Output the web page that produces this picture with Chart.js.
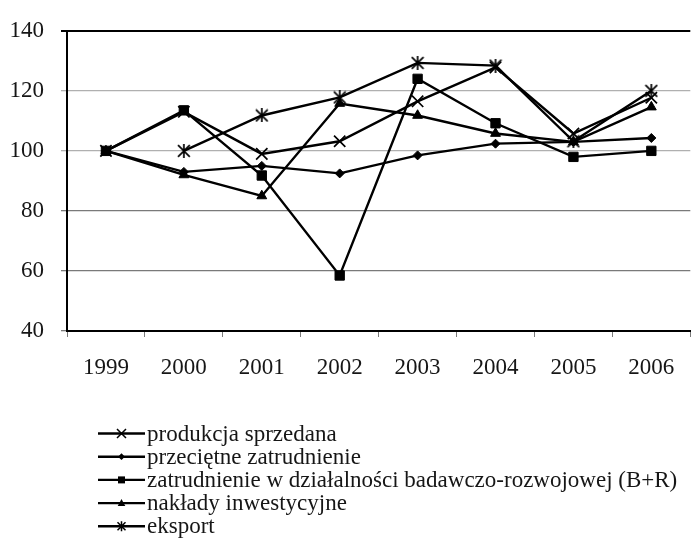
<!DOCTYPE html>
<html>
<head>
<meta charset="utf-8">
<script src="https://cdn.jsdelivr.net/npm/chart.js@4.4.1/dist/chart.umd.min.js"></script>
<style>
  html, body { margin: 0; padding: 0; background: #fff; overflow: hidden; }
  #wrap { width: 695px; height: 542px; overflow: hidden; position: relative; }
  canvas { display: block; }
</style>
</head>
<body>
<div id="wrap"><canvas id="c" width="700" height="542"></canvas></div>
<script>
// Dynamika wskaźników (1999 = 100)
const years = ['1999', '2000', '2001', '2002', '2003', '2004', '2005', '2006'];
const produkcjaSprzedana = [100, 113, 99, 103.2, 116.5, 127.8, 105.8, 117.7];
const przecietneZatrudnienie = [100, 93, 95, 92.5, 98.5, 102.4, 103, 104.3];
const zatrudnienieBR = [100, 113.5, 91.8, 58.5, 124, 109.2, 98, 100];
const nakladyInwestycyjne = [100, 92, 85, 115.8, 111.8, 105.8, 103, 114.6];
const eksport = [null, 100, 111.8, 117.8, 129.3, 128.4, 103.2, 120];

const seriesNames = [
  'produkcja sprzedana',
  'przeciętne zatrudnienie',
  'zatrudnienie w działalności badawczo-rozwojowej (B+R)',
  'nakłady inwestycyjne',
  'eksport'
];
const yTicks = [40, 60, 80, 100, 120, 140];

const FONT = '"Liberation Serif", "Times New Roman", serif';
const TEXT = '#161616';

// asterisk marker: an X with a vertical bar
function asterisk(size, lw) {
  const c = document.createElement('canvas');
  c.width = size; c.height = size;
  const g = c.getContext('2d');
  g.strokeStyle = '#000';
  g.lineWidth = lw;
  const m = size / 2, a = size * 0.42, v = size / 2;
  g.beginPath();
  g.moveTo(m - a, m - a); g.lineTo(m + a, m + a);
  g.moveTo(m + a, m - a); g.lineTo(m - a, m + a);
  g.moveTo(m, m - v); g.lineTo(m, m + v);
  g.stroke();
  return c;
}

function ds(label, data, style, radius, extra) {
  return Object.assign({
    label, data,
    borderColor: '#000',
    backgroundColor: '#000',
    borderWidth: 2.4,
    pointStyle: style,
    pointRadius: radius,
    pointHoverRadius: radius,
    pointBorderColor: '#000',
    pointBackgroundColor: '#000',
    pointBorderWidth: 1,
    tension: 0,
    spanGaps: false
  }, extra || {});
}

// legend below the plot: short line with the series marker, then the name
function drawMarker(ctx, kind, x, y) {
  ctx.save();
  ctx.fillStyle = '#000';
  ctx.strokeStyle = '#000';
  ctx.lineWidth = 1.5;
  ctx.beginPath();
  if (kind === 0) {
    const a = 4.5;
    ctx.moveTo(x - a, y - a); ctx.lineTo(x + a, y + a);
    ctx.moveTo(x + a, y - a); ctx.lineTo(x - a, y + a);
    ctx.stroke();
  } else if (kind === 1) {
    const r = 3.4;
    ctx.moveTo(x - r, y); ctx.lineTo(x, y - r); ctx.lineTo(x + r, y); ctx.lineTo(x, y + r);
    ctx.closePath(); ctx.fill();
  } else if (kind === 2) {
    ctx.rect(x - 3.5, y - 3.5, 7, 7); ctx.fill();
  } else if (kind === 3) {
    ctx.moveTo(x, y - 4); ctx.lineTo(x + 3.8, y + 3); ctx.lineTo(x - 3.8, y + 3);
    ctx.closePath(); ctx.fill();
  } else {
    const a = 4, v = 5;
    ctx.moveTo(x - a, y - a); ctx.lineTo(x + a, y + a);
    ctx.moveTo(x + a, y - a); ctx.lineTo(x - a, y + a);
    ctx.moveTo(x, y - v); ctx.lineTo(x, y + v);
    ctx.stroke();
  }
  ctx.restore();
}

const legendPlugin = {
  id: 'stackedLegend',
  afterDraw(chart) {
    const ctx = chart.ctx;
    ctx.save();
    ctx.font = '23px ' + FONT;
    ctx.fillStyle = TEXT;
    ctx.textAlign = 'left';
    ctx.textBaseline = 'alphabetic';
    seriesNames.forEach((name, i) => {
      const y = 433.5 + i * 23.2;
      ctx.strokeStyle = '#000';
      ctx.lineWidth = 2.4;
      ctx.beginPath();
      ctx.moveTo(98, y); ctx.lineTo(145, y);
      ctx.stroke();
      drawMarker(ctx, i, 121.5, y);
      ctx.fillText(name, 147, y + 7);
    });
    ctx.restore();
  }
};

const gridColor = (v) => (v === 140 ? '#000' : (v >= 100 ? '#b0b0b0' : '#7a7a7a'));

new Chart(document.getElementById('c'), {
  type: 'line',
  data: {
    labels: years,
    datasets: [
      ds(seriesNames[0], produkcjaSprzedana, 'crossRot', 8, { pointBorderWidth: 1.7 }),
      ds(seriesNames[1], przecietneZatrudnienie, 'rectRot', 4.5),
      ds(seriesNames[2], zatrudnienieBR, 'rect', 6.6),
      ds(seriesNames[3], nakladyInwestycyjne, 'triangle', 5.7),
      ds(seriesNames[4], eksport, asterisk(14, 1.7), 7)
    ]
  },
  options: {
    responsive: false,
    animation: false,
    events: [],
    layout: { padding: { top: 21, right: 2, bottom: 151, left: 0 } },
    plugins: {
      legend: { display: false },
      tooltip: { enabled: false },
      title: { display: false }
    },
    scales: {
      x: {
        type: 'category',
        offset: true,
        afterFit: (s) => { s.height = 60; },
        border: { display: true, color: '#000', width: 2 },
        grid: {
          offset: true,
          drawOnChartArea: false,
          drawTicks: true,
          tickLength: 6,
          color: '#7a7a7a',
          lineWidth: 1
        },
        ticks: {
          color: TEXT,
          font: { family: FONT, size: 23 },
          padding: 17,
          maxRotation: 0,
          autoSkip: false
        }
      },
      y: {
        min: 40,
        max: 140,
        afterFit: (s) => { s.width = 67; },
        afterBuildTicks: (s) => { s.ticks = yTicks.map(v => ({ value: v })); },
        border: { display: true, color: '#000', width: 2 },
        grid: {
          drawTicks: true,
          tickLength: 6,
          color: (c) => gridColor(c.tick.value),
          lineWidth: (c) => (c.tick.value === 140 ? 2 : 1.3)
        },
        ticks: {
          color: TEXT,
          font: { family: FONT, size: 23 },
          padding: 17
        }
      }
    }
  },
  plugins: [legendPlugin]
});
</script>
</body>
</html>
